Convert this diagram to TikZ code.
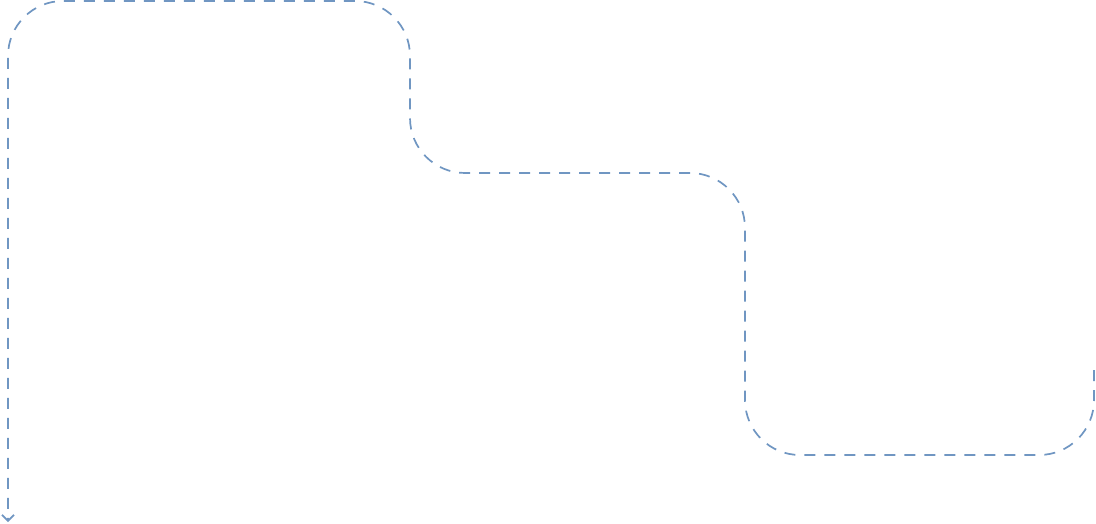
\documentclass[tikz,border=0pt]{standalone}
\usetikzlibrary{arrows.meta}
\definecolor{flowblue}{HTML}{7096C2}
\tikzset{
  flowline/.style={draw=flowblue, line width=1.7pt, dash pattern=on 11pt off 9pt,
    rounded corners=55pt, -{Straight Barb[length=6pt,width=12pt,line width=1.7pt]}}
}
\begin{document}
\begin{tikzpicture}[x=1pt,y=-1pt]
\useasboundingbox (0,0) rectangle (1096,524);
\coordinate (start) at (1094,370);
\coordinate (c1) at (1094,455);
\coordinate (c2) at (745,455);
\coordinate (c3) at (745,173);
\coordinate (c4) at (410,173);
\coordinate (c5) at (410,1);
\coordinate (c6) at (8,1);
\coordinate (finish) at (8,522);
\path[flowline] (start) -- (c1) -- (c2) -- (c3) -- (c4) -- (c5) -- (c6) -- (finish);
\end{tikzpicture}
\end{document}
